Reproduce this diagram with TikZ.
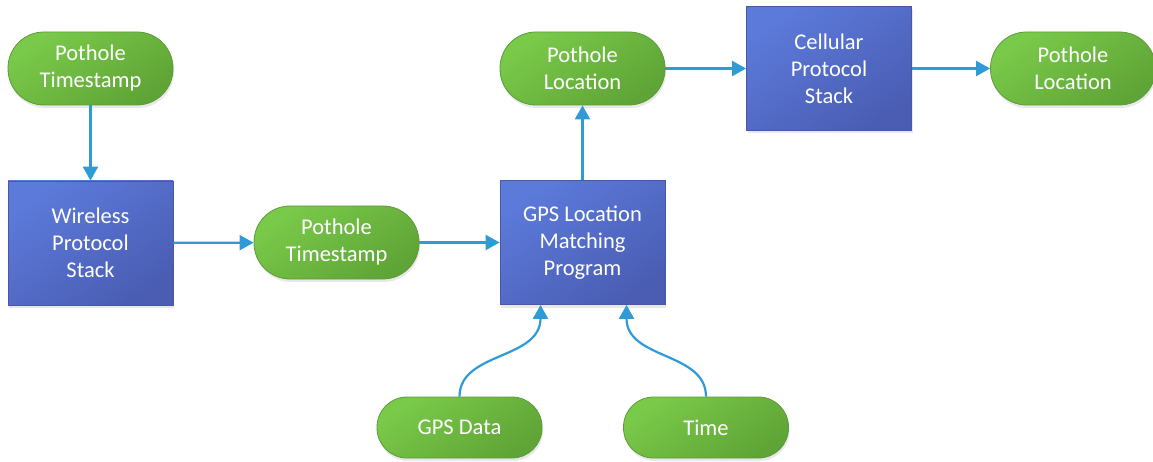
\documentclass[tikz,border=0pt]{standalone}
\usepackage{fontspec}
\setmainfont{Carlito}
\usetikzlibrary{arrows.meta,shadows,calc}
\definecolor{gA}{HTML}{7ACA4A}
\definecolor{gB}{HTML}{5FA436}
\definecolor{gE}{HTML}{5C9B3A}
\definecolor{bA}{HTML}{5C7ADA}
\definecolor{bB}{HTML}{4A5DB3}
\definecolor{bE}{HTML}{4858A6}
\definecolor{arr}{HTML}{2E9BD6}
\tikzset{
  base/.style={align=center, text=white, font=\fontsize{22.5}{27}\selectfont, inner sep=0pt,
    drop shadow={opacity=0.18, shadow xshift=1pt, shadow yshift=-3pt}},
  pill/.style={base, draw=gE, line width=0.8pt, rounded corners=36pt,
    minimum width=165pt, minimum height=73pt,
    top color=gA, bottom color=gB, shading angle=35},
  pillsm/.style={pill, rounded corners=30pt, minimum height=61pt},
  box/.style={base, draw=bE, line width=0.8pt,
    minimum width=165pt, minimum height=124pt,
    top color=bA, bottom color=bB, shading angle=35},
  link/.style={draw=arr, line width=2.2pt, -{Triangle[length=14pt,width=15pt]}}
}
\begin{document}
\begin{tikzpicture}[x=1pt,y=-1pt]
\useasboundingbox (0,0) rectangle (1153,462);
\node[pill] (pt1) at (90.5,68.5) {Pothole\\Timestamp};
\node[box] (wps) at (90.5,243) {Wireless\\Protocol\\Stack};
\node[pill] (pt2) at (336.5,242.5) {Pothole\\Timestamp};
\node[box] (gps) at (582.5,242.5) {GPS Location\\Matching\\Program};
\node[pill] (pl1) at (582.5,68.5) {Pothole\\Location};
\node[box] (cps) at (829,68.5) {Cellular\\Protocol\\Stack};
\node[pill] (pl2) at (1073,68.5) {Pothole\\Location};
\node[pillsm] (gd) at (459.5,427.5) {GPS Data};
\node[pillsm] (tm) at (706,427.5) {Time};

\draw[link] (pt1) -- (wps);
\draw[link] (wps) -- (pt2);
\draw[link] (pt2) -- (gps);
\draw[link] (gps) -- (pl1);
\draw[link] (pl1) -- (cps);
\draw[link] (cps) -- (pl2);
\draw[link] (gd.north) .. controls +(0,-45) and +(0,55) .. ([xshift=-42pt]gps.south);
\draw[link] (tm.north) .. controls +(0,-45) and +(0,55) .. ([xshift=44pt]gps.south);
\end{tikzpicture}
\end{document}
